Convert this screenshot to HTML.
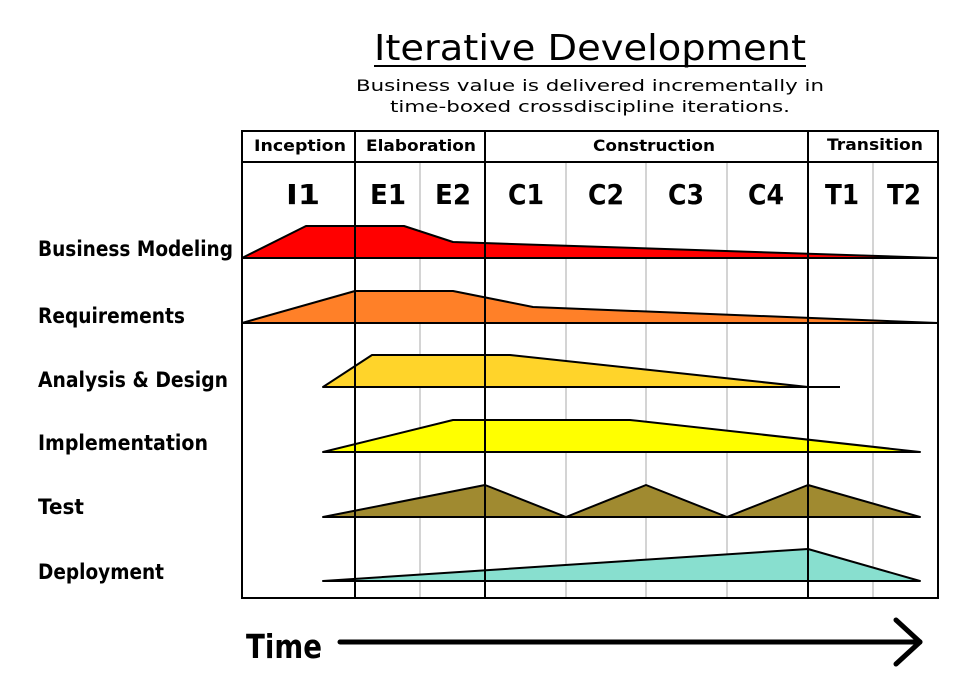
<!DOCTYPE html>
<html><head><style>body{margin:0;background:#fff}svg{display:block}</style></head><body>
<svg width="960" height="679" viewBox="0 0 960 679" xmlns="http://www.w3.org/2000/svg" font-family="DejaVu Sans, Liberation Sans, sans-serif">
<rect width="960" height="679" fill="#fff"/>
<text x="590" y="60" font-size="36" text-anchor="middle" textLength="432" lengthAdjust="spacingAndGlyphs">Iterative Development</text>
<line x1="374" y1="66" x2="806" y2="66" stroke="#000" stroke-width="2"/>
<text x="590" y="91" font-size="16" text-anchor="middle" textLength="468" lengthAdjust="spacingAndGlyphs">Business value is delivered incrementally in</text>
<text x="590" y="112" font-size="16" text-anchor="middle" textLength="400" lengthAdjust="spacingAndGlyphs">time-boxed crossdiscipline iterations.</text>
<g stroke="#aaa" stroke-width="1">
<line x1="420" y1="162" x2="420" y2="598"/><line x1="566" y1="162" x2="566" y2="598"/>
<line x1="646" y1="162" x2="646" y2="598"/><line x1="727" y1="162" x2="727" y2="598"/>
<line x1="873" y1="162" x2="873" y2="598"/>
</g>
<g stroke="#000" stroke-width="2" stroke-linejoin="round">
<polygon points="242,258 306,226 404,226 453,242 938,258" fill="#ff0000"/>
<polygon points="242,323 355,291 453,291 533,307 938,323" fill="#ff8028"/>
<polygon points="323,387 372,355 510,355 808,387" fill="#ffd42a"/>
<polygon points="323,452 453,420 630,420 920,452" fill="#ffff00"/>
<polygon points="323,517 485,485 566,517 646,485 727,517 808,485 920,517" fill="#a08a30"/>
<polygon points="323,581 808,549 920,581" fill="#88dfcf"/>
<line x1="242" y1="258" x2="938" y2="258"/>
<line x1="242" y1="323" x2="938" y2="323"/>
<line x1="323" y1="387" x2="840" y2="387"/>
<line x1="323" y1="452" x2="920" y2="452"/>
<line x1="323" y1="517" x2="920" y2="517"/>
<line x1="323" y1="581" x2="920" y2="581"/>
</g>
<g stroke="#000" stroke-width="2" fill="none">
<rect x="242" y="131" width="696" height="467"/>
<line x1="242" y1="162" x2="938" y2="162"/>
<line x1="355" y1="131" x2="355" y2="598"/>
<line x1="485" y1="131" x2="485" y2="598"/>
<line x1="808" y1="131" x2="808" y2="598"/>
</g>
<g font-weight="bold" font-size="16" text-anchor="middle">
<text x="300" y="151" textLength="92" lengthAdjust="spacingAndGlyphs">Inception</text>
<text x="421" y="151" textLength="110" lengthAdjust="spacingAndGlyphs">Elaboration</text>
<text x="654" y="151" textLength="122" lengthAdjust="spacingAndGlyphs">Construction</text>
<text x="875" y="150" textLength="96" lengthAdjust="spacingAndGlyphs">Transition</text>
</g>
<g font-weight="bold" font-size="28" text-anchor="middle">
<text x="303" y="204" textLength="34" lengthAdjust="spacingAndGlyphs">I1</text>
<text x="388" y="204" textLength="36" lengthAdjust="spacingAndGlyphs">E1</text>
<text x="453" y="204" textLength="36" lengthAdjust="spacingAndGlyphs">E2</text>
<text x="526" y="204" textLength="36" lengthAdjust="spacingAndGlyphs">C1</text>
<text x="606" y="204" textLength="36" lengthAdjust="spacingAndGlyphs">C2</text>
<text x="686" y="204" textLength="36" lengthAdjust="spacingAndGlyphs">C3</text>
<text x="766" y="204" textLength="36" lengthAdjust="spacingAndGlyphs">C4</text>
<text x="842" y="204" textLength="34" lengthAdjust="spacingAndGlyphs">T1</text>
<text x="904" y="204" textLength="34" lengthAdjust="spacingAndGlyphs">T2</text>
</g>
<g font-weight="bold" font-size="21">
<text x="38" y="256" textLength="195" lengthAdjust="spacingAndGlyphs">Business Modeling</text>
<text x="38" y="323" textLength="147" lengthAdjust="spacingAndGlyphs">Requirements</text>
<text x="38" y="387" textLength="190" lengthAdjust="spacingAndGlyphs">Analysis &amp; Design</text>
<text x="38" y="450" textLength="170" lengthAdjust="spacingAndGlyphs">Implementation</text>
<text x="38" y="514" textLength="46" lengthAdjust="spacingAndGlyphs">Test</text>
<text x="38" y="579" textLength="126" lengthAdjust="spacingAndGlyphs">Deployment</text>
</g>
<text x="246" y="658" font-weight="bold" font-size="33" textLength="76" lengthAdjust="spacingAndGlyphs">Time</text>
<line x1="340" y1="642" x2="920" y2="642" stroke="#000" stroke-width="5" stroke-linecap="round"/>
<polyline points="896,620 920,642 896,664" fill="none" stroke="#000" stroke-width="5" stroke-linecap="round" stroke-linejoin="round"/>
</svg>
</body></html>
